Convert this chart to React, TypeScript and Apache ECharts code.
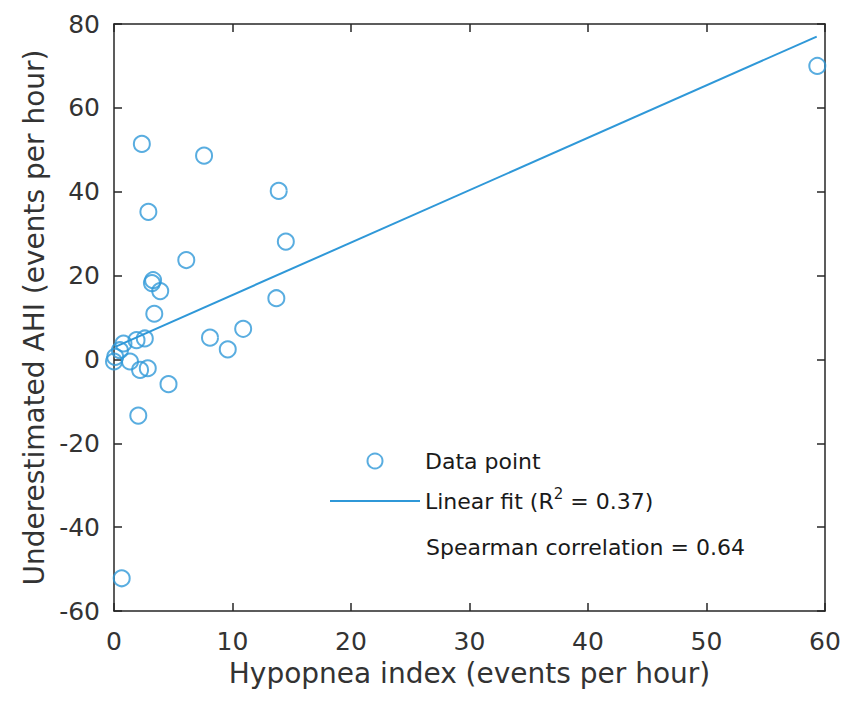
import React, { useEffect, useRef } from 'react';
import * as echarts from 'echarts';

// Data
const hypopneaIndex = [2.35, 7.6, 13.9, 2.9, 14.5, 6.1, 3.3, 3.2, 3.9, 13.7, 3.4, 10.9, 8.1, 9.6, 4.6, 2.05, 2.6, 1.9, 0.8, 0.5, 0.1, 0.0, 1.35, 2.2, 2.85, 0.65, 59.35];
const underestimatedAHI = [51.4, 48.6, 40.2, 35.2, 28.1, 23.7, 18.9, 18.2, 16.3, 14.6, 10.9, 7.3, 5.2, 2.4, -5.9, -13.4, 5.0, 4.6, 3.8, 2.2, 0.6, -0.5, -0.5, -2.5, -2.1, -52.2, 70.0];
const fitX = [0.1, 59.3];
const fitY = [3.0, 77.0];

const xRange = { min: 0, max: 60, interval: 10 };
const yRange = { min: -60, max: 80, interval: 20 };

const xTitle = 'Hypopnea index (events per hour)';
const yTitle = 'Underestimated AHI (events per hour)';
const seriesPoint = 'Data point';
const seriesFit = 'Linear fit (R2 = 0.37)';
const spearmanText = 'Spearman correlation = 0.64';

const BLUE = '#2f98d8';
const AXIS = '#262626';
const FONT = 'DejaVu Sans';

export default function App() {
  const ref = useRef<HTMLDivElement>(null);
  useEffect(() => {
    document.body.style.margin = '0';
    const chart = echarts.init(ref.current!, null, { renderer: 'svg' });
    const axisCommon = {
      axisLine: { show: true, onZero: false, lineStyle: { color: AXIS, width: 1.5 } },
      axisTick: { show: true, inside: true, length: 8, lineStyle: { color: AXIS, width: 1.5 } },
      splitLine: { show: false },
    };
    chart.setOption({
      animation: false,
      backgroundColor: '#ffffff',
      textStyle: { fontFamily: FONT },
      grid: { left: 114, top: 24, right: 26, bottom: 100, containLabel: false },
      xAxis: [
        {
          type: 'value', position: 'bottom', ...xRange, ...axisCommon,
          axisLabel: { color: '#333', fontSize: 25, fontFamily: FONT, margin: 18 },
          name: xTitle, nameLocation: 'middle', nameGap: 48,
          nameTextStyle: { color: '#333', fontSize: 28, fontFamily: FONT },
        },
        {
          type: 'value', position: 'top', ...xRange, ...axisCommon,
          axisLabel: { show: false },
        },
      ],
      yAxis: [
        {
          type: 'value', position: 'left', ...yRange, ...axisCommon,
          axisLabel: { color: '#333', fontSize: 25, fontFamily: FONT, margin: 14 },
          name: yTitle, nameLocation: 'middle', nameGap: 64,
          nameTextStyle: { color: '#333', fontSize: 28, fontFamily: FONT },
        },
        {
          type: 'value', position: 'right', ...yRange, ...axisCommon,
          axisLabel: { show: false },
        },
      ],
      legend: {
        orient: 'vertical',
        left: 330,
        top: 446,
        padding: 0,
        itemWidth: 90,
        itemHeight: 15,
        itemGap: 10,
        data: [
          { name: seriesPoint, icon: 'circle', itemStyle: { color: 'rgba(0,0,0,0)', borderColor: BLUE, borderWidth: 2 } },
          { name: seriesFit, icon: 'path://M0,0 H90 V2 H0 Z', itemStyle: { color: BLUE, borderWidth: 0 } },
        ],
        formatter: (name: string) => name === seriesFit ? 'Linear fit (R{sup|2} = 0.37)' : name,
        textStyle: {
          color: '#1a1a1a', fontSize: 22, fontFamily: FONT, lineHeight: 30,
          rich: {
            sup: { fontSize: 15, fontFamily: FONT, color: '#1a1a1a', lineHeight: 16, verticalAlign: 'top' },
          },
        },
      },
      series: [
        {
          name: seriesPoint,
          type: 'scatter',
          symbol: 'circle',
          symbolSize: 16,
          itemStyle: { color: 'rgba(0,0,0,0)', borderColor: BLUE, borderWidth: 2 },
          data: hypopneaIndex.map((x, i) => [x, underestimatedAHI[i]]),
          z: 3,
        },
        {
          name: seriesFit,
          type: 'line',
          symbol: 'none',
          showSymbol: false,
          lineStyle: { color: BLUE, width: 2 },
          itemStyle: { color: BLUE },
          data: fitX.map((x, i) => [x, fitY[i]]),
          z: 2,
        },
      ],
      graphic: [
        {
          type: 'text',
          left: 426,
          top: 536,
          style: { text: spearmanText, fontSize: 22, fontFamily: FONT, fill: '#1a1a1a' },
        },
      ],
    });
    return () => chart.dispose();
  }, []);
  return <div ref={ref} style={{ width: 851, height: 711 }} />;
}
